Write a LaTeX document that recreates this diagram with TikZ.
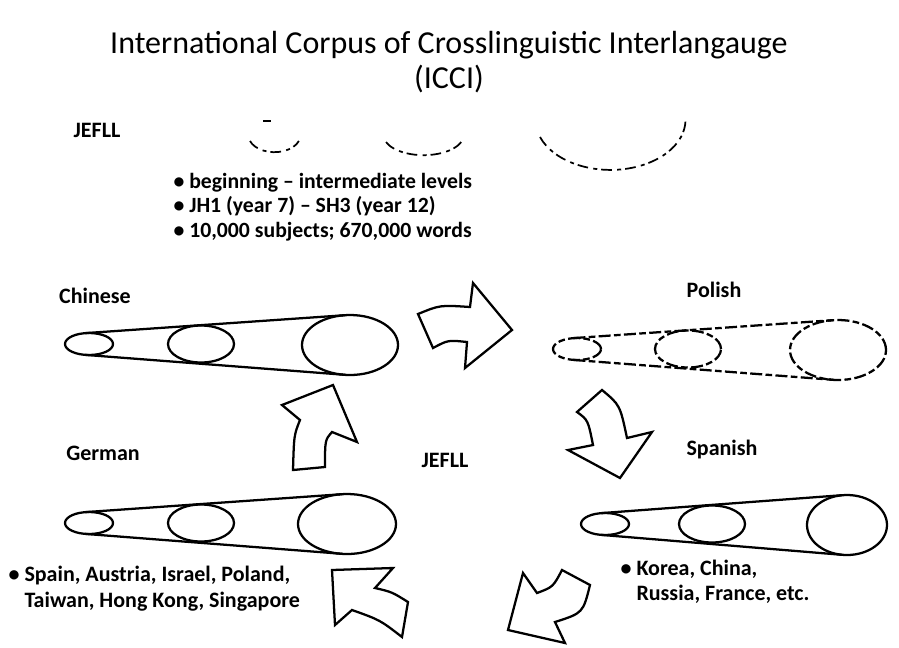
\documentclass[tikz,border=0pt]{standalone}
\usepackage{fontspec}
\setmainfont{Carlito}
\usetikzlibrary{calc}

\begin{document}
\begin{tikzpicture}[x=0.75pt, y=0.75pt, line join=round, line width=1.7pt,
  lbl/.style={font=\fontsize{16.5}{19.5}\selectfont\bfseries},
  blk/.style={draw, fill=white, line join=miter},
  broken/.style={dash pattern=on 9pt off 2.5pt on 5pt off 2.5pt},
  faint/.style={line width=1.3pt, dash pattern=on 8pt off 4pt on 3pt off 3pt}]
\useasboundingbox (0,0) rectangle (899,-647);
\node[font=\fontsize{24}{26.5}\selectfont, align=center] (title) at (449,-62) {International Corpus of Crosslinguistic Interlangauge\\(ICCI)};
\node[lbl] (jefll1) at (97,-130) {JEFLL};
\draw[faint] (250,-141) arc (200:340:26 and 17); \draw (263,-121) -- (271,-121);
\draw[faint] (386,-142) arc (200:340:40 and 20);
\draw[faint] (540,-137) arc (200:358:75 and 50);
\node[lbl, font=\fontsize{16.3}{18.4}\selectfont\bfseries, anchor=west, align=left] (facts) at (168,-207) {• beginning – intermediate levels\\• JH1 (year 7) – SH3 (year 12)\\• 10,000 subjects; 670,000 words};
\node[lbl] (chinese) at (95,-296) {Chinese}; \node[lbl] (polish) at (714,-290) {Polish};
\node[lbl] (german) at (103,-453) {German}; \node[lbl] (spanish) at (722,-450) {Spanish};
\node[lbl] (jefll2) at (445,-460) {JEFLL};
\node[lbl, anchor=west, align=left] (where1) at (3,-589) {• Spain, Austria, Israel, Poland,\\\phantom{• }Taiwan, Hong Kong, Singapore};
\node[lbl, font=\fontsize{16.5}{18.8}\selectfont\bfseries, anchor=west, align=left] (where2) at (615,-582) {• Korea, China,\\\phantom{• }Russia, France, etc.};
\foreach \x/\y/\m/\d/\w/\s in {89/344/112/261/48/solid, 577/349/111/261/48/broken, 89/523/112/258/49/solid, 605/524/107/242/40/solid} {
  \coordinate (s) at (\x,-\y); \coordinate (m) at ($(s)+(\m,0)$); \coordinate (l) at ($(s)+(\d,-1)$);
  \draw[\s] ($(s)+(-3.6,10.9)$) -- ($(l)+(-5,29.8)$); \draw[\s] ($(s)+(-3.6,-10.9)$) -- ($(l)+(-5,-29.8)$);
  \draw[\s] (s) ellipse [x radius=24, y radius=11]; \draw[\s] (m) ellipse [x radius=33, y radius=18.5]; \draw[\s] (l) ellipse [x radius=\w, y radius=30];
}
\draw[blk] (418,-314) .. controls (440,-305) .. (470,-307) -- (473,-283) -- (512,-330) -- (465,-368) -- (467,-342) .. controls (448,-340) .. (433,-348) -- cycle;
\draw[blk] (333,-385) -- (357,-442) -- (332,-432) .. controls (325,-440) .. (325,-467) -- (293,-470) .. controls (294,-435) .. (300,-420) -- (282,-405) -- cycle;
\draw[blk] (602,-390) .. controls (620,-405) .. (627,-438) -- (652,-432) -- (620,-478) -- (568,-450) -- (593,-445) .. controls (588,-420) .. (577,-412) -- cycle;
\draw[blk] (332,-570) -- (393,-568) -- (375,-588) .. controls (392,-592) .. (408,-602) -- (402,-637) .. controls (380,-620) .. (352,-610) -- (335,-625) -- cycle;
\draw[blk] (508,-630) -- (523,-573) -- (537,-593) .. controls (553,-587) .. (562,-570) -- (590,-585) .. controls (583,-613) .. (555,-622) -- (565,-643) -- cycle;
\end{tikzpicture}
\end{document}
